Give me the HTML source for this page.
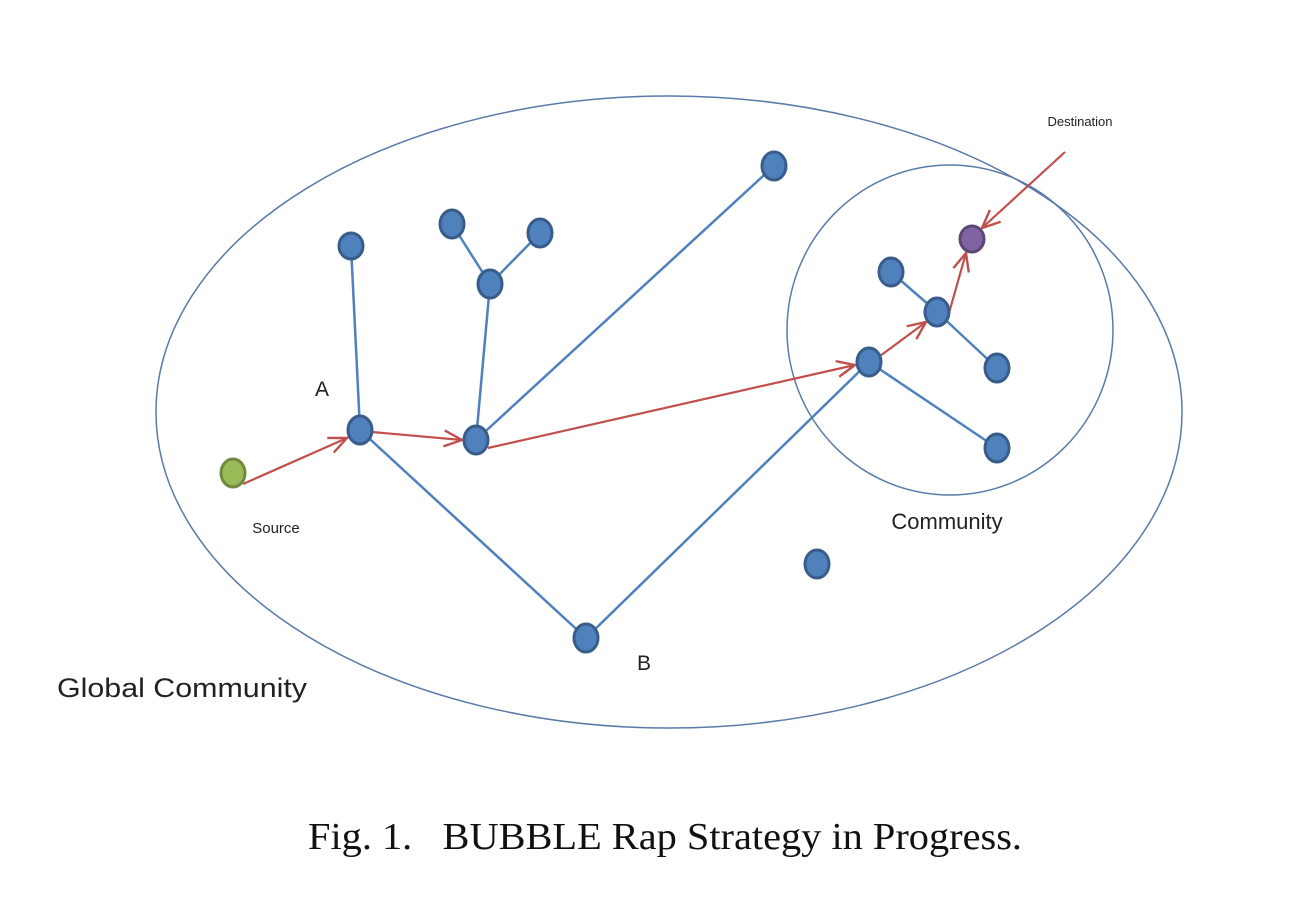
<!DOCTYPE html>
<html><head><meta charset="utf-8"><style>
html,body{margin:0;padding:0;background:#fff;}
svg{display:block;}
</style></head><body>
<svg width="1313" height="919" viewBox="0 0 1313 919" xmlns="http://www.w3.org/2000/svg">
<defs>
<marker id="ar" viewBox="0 0 24 24" refX="21" refY="12" markerWidth="24" markerHeight="24" markerUnits="userSpaceOnUse" orient="auto">
<polyline points="3,4 21,12 3,20" fill="none" stroke="#c0504d" stroke-width="2.4"/>
</marker>
</defs>
<ellipse cx="669" cy="412" rx="513" ry="316" fill="none" stroke="#5a7aa8" stroke-width="1.5"/>
<ellipse cx="950" cy="330" rx="163" ry="165" fill="none" stroke="#5a7aa8" stroke-width="1.5"/>
<g stroke="#4f81bd" stroke-width="2.5" fill="none">
<line x1="360" y1="430" x2="351" y2="246"/>
<line x1="360" y1="430" x2="586" y2="638"/>
<line x1="586" y1="638" x2="869" y2="362"/>
<line x1="869" y1="362" x2="997" y2="448"/>
<line x1="937" y1="312" x2="891" y2="272"/>
<line x1="937" y1="312" x2="997" y2="368"/>
<line x1="476" y1="440" x2="490" y2="284"/>
<line x1="490" y1="284" x2="452" y2="224"/>
<line x1="490" y1="284" x2="540" y2="233"/>
<line x1="476" y1="440" x2="774" y2="166"/>
</g>
<g stroke="#c0504d" stroke-width="2.2" fill="none" marker-end="url(#ar)">
<line x1="243" y1="484" x2="347" y2="438"/>
<line x1="372" y1="432" x2="462" y2="440"/>
<line x1="488" y1="448" x2="855" y2="365"/>
<line x1="880" y1="356" x2="926" y2="322"/>
<line x1="947" y1="320" x2="966" y2="253"/>
<line x1="1065" y1="152" x2="982" y2="228"/>
</g>
<g fill="#4f81bd" stroke="#385d8a" stroke-width="3">
<ellipse cx="360" cy="430" rx="12" ry="14"/>
<ellipse cx="476" cy="440" rx="12" ry="14"/>
<ellipse cx="351" cy="246" rx="12" ry="13"/>
<ellipse cx="452" cy="224" rx="12" ry="14"/>
<ellipse cx="540" cy="233" rx="12" ry="14"/>
<ellipse cx="490" cy="284" rx="12" ry="14"/>
<ellipse cx="774" cy="166" rx="12" ry="14"/>
<ellipse cx="869" cy="362" rx="12" ry="14"/>
<ellipse cx="937" cy="312" rx="12" ry="14"/>
<ellipse cx="891" cy="272" rx="12" ry="14"/>
<ellipse cx="997" cy="368" rx="12" ry="14"/>
<ellipse cx="997" cy="448" rx="12" ry="14"/>
<ellipse cx="817" cy="564" rx="12" ry="14"/>
<ellipse cx="586" cy="638" rx="12" ry="14"/>
</g>
<ellipse cx="233" cy="473" rx="12" ry="14" fill="#9bbb59" stroke="#71893f" stroke-width="3"/>
<ellipse cx="972" cy="239" rx="12" ry="13" fill="#8064a2" stroke="#5c4776" stroke-width="3"/>
<g font-family="Liberation Sans, sans-serif" fill="#222">
<text x="1080" y="126" font-size="13" text-anchor="middle">Destination</text>
<text x="322" y="396" font-size="21" text-anchor="middle">A</text>
<text x="276" y="533" font-size="15" text-anchor="middle">Source</text>
<text x="947" y="529" font-size="22" text-anchor="middle">Community</text>
<text x="644" y="670" font-size="21" text-anchor="middle">B</text>
<text x="57" y="697" font-size="27" textLength="250" lengthAdjust="spacingAndGlyphs">Global Community</text>
</g>
<text x="308" y="849" font-family="Liberation Serif, serif" font-size="38" fill="#111" textLength="714" lengthAdjust="spacingAndGlyphs" xml:space="preserve">Fig. 1.   BUBBLE Rap Strategy in Progress.</text>
</svg>
</body></html>
